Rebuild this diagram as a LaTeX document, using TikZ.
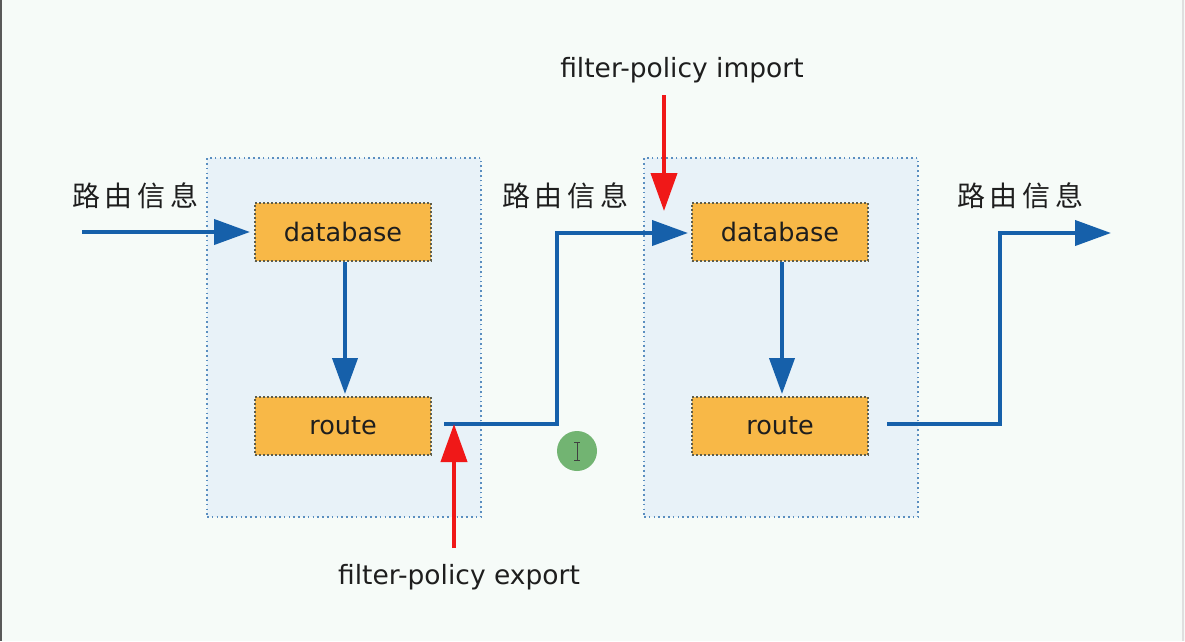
\documentclass[tikz,border=0pt]{standalone}
\usepackage{fontspec}
\setmainfont{DejaVu Sans}
\newfontfamily\cjk{Noto Sans CJK SC}
\usetikzlibrary{arrows.meta,positioning,calc}
\definecolor{bgc}{HTML}{F6FBF8}
\definecolor{contfill}{HTML}{E8F2F8}
\definecolor{contline}{HTML}{5A8EC0}
\definecolor{boxfill}{HTML}{F8B847}
\definecolor{boxline}{HTML}{5E5D4A}
\definecolor{flow}{HTML}{1660AA}
\definecolor{pol}{HTML}{F01818}
\definecolor{txt}{HTML}{1E1E1E}
\definecolor{cursorg}{HTML}{72B472}
\tikzset{
  container/.style={draw=contline, fill=contfill, line width=2pt, dash pattern=on 1.6pt off 3.2pt, minimum width=274pt, minimum height=359pt, inner sep=0pt},
  stepbox/.style={draw=boxline, fill=boxfill, line width=2pt, dash pattern=on 1.6pt off 2.4pt, minimum width=176pt, minimum height=58pt, inner sep=0pt, font=\fontsize{25.5}{30}\selectfont, text=txt},
  flowarrow/.style={draw=flow, line width=4pt, -{Triangle[length=36pt,width=25pt]}},
  polarrow/.style={draw=pol, line width=4pt, -{Triangle[length=38pt,width=26pt]}},
  cnlabel/.style={font=\cjk\fontsize{28}{32}\selectfont, text=txt},
  pollabel/.style={font=\fontsize{26.5}{30}\selectfont, text=txt},
}
\begin{document}
\begin{tikzpicture}[x=1pt,y=-1pt]
\fill[bgc] (0,0) rectangle (1185,641);
\useasboundingbox (0,0) rectangle (1185,641);
\draw[gray!70!black, line width=2.5pt] (1,0) -- (1,641);
\draw[gray!25, line width=1.5pt] (1183,0) -- (1183,641);

\node[container] (c1) at (344,337.5) {};
\node[container] (c2) at (781,337.5) {};

\node[stepbox] (db1) at (343,232) {database};
\node[stepbox] (rt1) at (343,426) {route};
\node[stepbox] (db2) at (780,232) {database};
\node[stepbox] (rt2) at (780,426) {route};

\node[cnlabel] (l1) at (135,196) {路\,由\,信\,息};
\node[cnlabel] (l2) at (565,196) {路\,由\,信\,息};
\node[cnlabel] (l3) at (1020,196) {路\,由\,信\,息};

\node[pollabel] (imp) at (682,70) {filter-policy import};
\node[pollabel] (exp) at (459,577) {filter-policy export};

\coordinate (in) at (82,232);
\coordinate (bend1) at (557,330);
\coordinate (bend2) at (1000,330);
\coordinate (out) at (1111,233);
\coordinate (expstart) at (454,548);
\coordinate (exptip) at (454,424);
\coordinate (impstart) at (664,95);
\coordinate (imptip) at (664,211);

\draw[flowarrow] (in) -- ([xshift=-4pt]db1.west);
\draw[flowarrow] (db1.south) ++(2pt,0) -- ([xshift=2pt,yshift=2pt]rt1.north);
\draw[flowarrow] (db2.south) ++(2pt,0) -- ([xshift=2pt,yshift=2pt]rt2.north);
\draw[flowarrow] ([xshift=12pt,yshift=2pt]rt1.east) -| (bend1) |- ([xshift=-3pt,yshift=-1pt]db2.west);
\draw[flowarrow] ([xshift=18pt,yshift=2pt]rt2.east) -| (bend2) |- (out);

\draw[polarrow] (expstart) -- (exptip);
\draw[polarrow] (impstart) -- (imptip);

\node[circle, fill=cursorg, minimum size=40pt, inner sep=0pt] (cur) at (577,451) {};
\draw[black!75, line width=1pt] ([yshift=-9pt]cur.center) -- ([yshift=9pt]cur.center)
  ([xshift=-3pt,yshift=-9pt]cur.center) -- ([xshift=3pt,yshift=-9pt]cur.center)
  ([xshift=-3pt,yshift=9pt]cur.center) -- ([xshift=3pt,yshift=9pt]cur.center);
\end{tikzpicture}
\end{document}
